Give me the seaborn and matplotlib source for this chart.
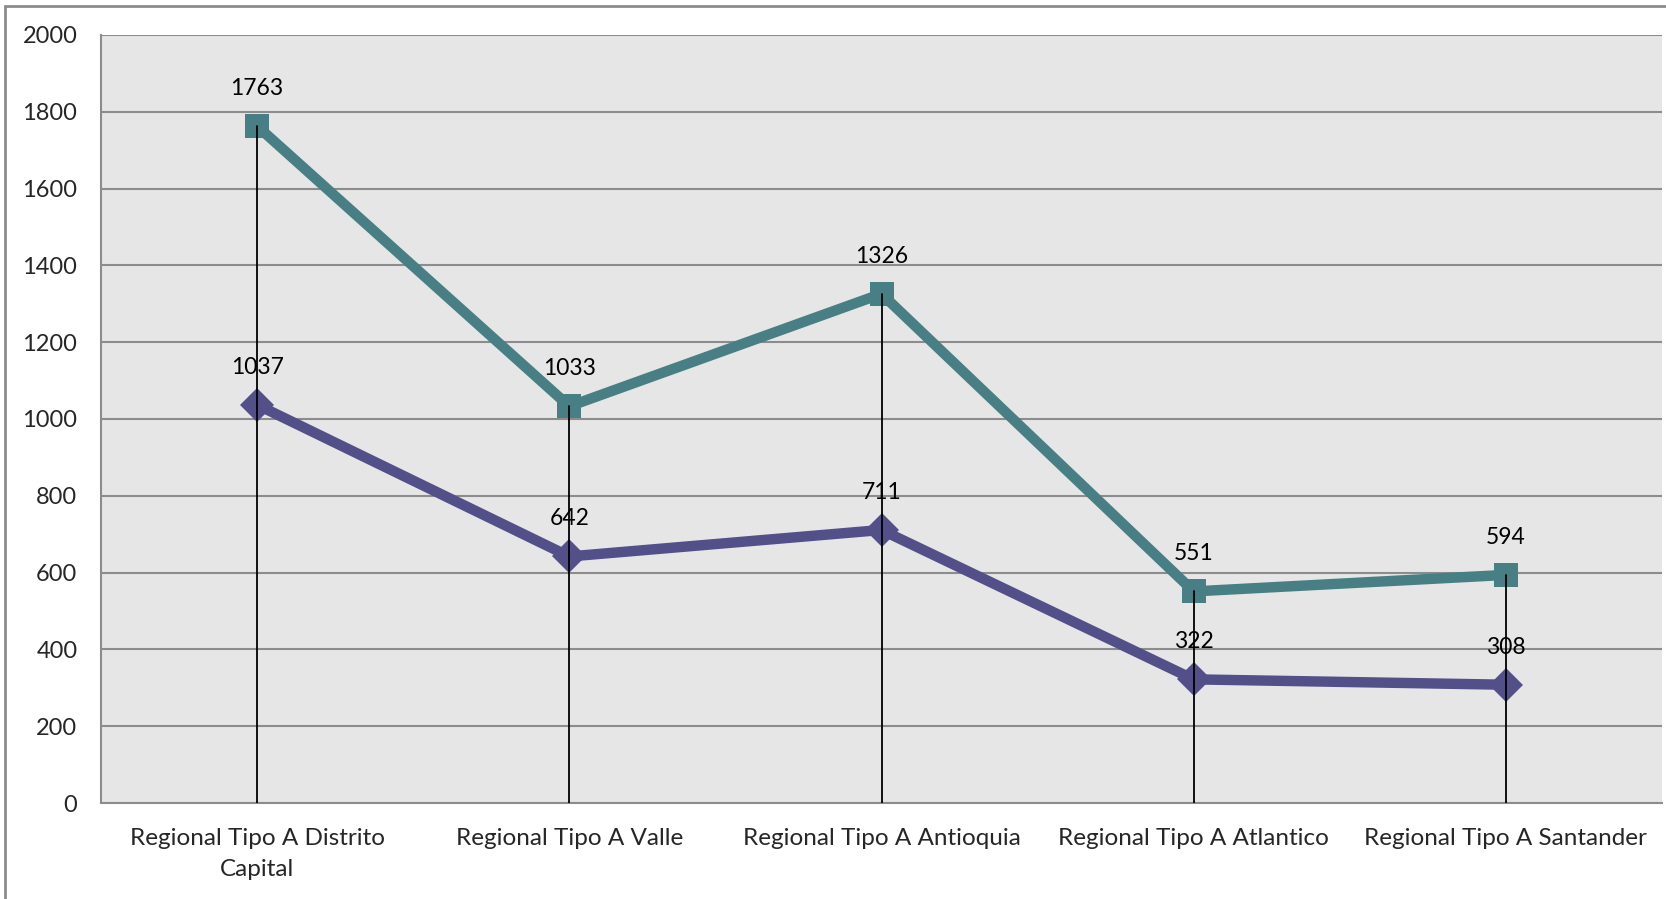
import pandas as pd
import matplotlib.pyplot as plt
import seaborn as sns
from matplotlib.patches import Rectangle

# datos
categorias = ['Regional Tipo A Distrito\nCapital', 'Regional Tipo A Valle',
              'Regional Tipo A Antioquia', 'Regional Tipo A Atlantico',
              'Regional Tipo A Santander']
serie_alta = [1763, 1033, 1326, 551, 594]
serie_baja = [1037, 642, 711, 322, 308]
y_ticks = [0, 200, 400, 600, 800, 1000, 1200, 1400, 1600, 1800, 2000]

sns.set_style('white', {'axes.facecolor': '#E6E6E6'})
plt.rcParams['font.family'] = ['Lato', 'DejaVu Sans']

df = pd.DataFrame({
    'categoria': categorias * 2,
    'pos': list(range(len(categorias))) * 2,
    'valor': serie_alta + serie_baja,
    'serie': ['alta'] * len(categorias) + ['baja'] * len(categorias),
})

fig = plt.figure(figsize=(16.66, 8.99), dpi=100)
ax = fig.add_axes([101 / 1666, 96 / 899, 1561 / 1666, 768 / 899])

colores = {'alta': '#477F84', 'baja': '#524F89'}
sns.lineplot(data=df, x='pos', y='valor', hue='serie', style='serie',
             palette=colores, markers={'alta': 's', 'baja': 'D'}, dashes=False,
             linewidth=7.5, markersize=17, markeredgewidth=0, legend=False, ax=ax,
             zorder=3)

# lineas de caida
for i in range(len(categorias)):
    ax.plot([i, i], [0, max(serie_alta[i], serie_baja[i])], color='black',
            linewidth=1.3, zorder=4)

# etiquetas de datos
for i in range(len(categorias)):
    for v in (serie_alta[i], serie_baja[i]):
        ax.annotate(str(v), (i, v), xytext=(0, 27), textcoords='offset points',
                    ha='center', va='center', fontsize=16.5, color='black', zorder=5)

ax.set_xlim(-0.5, len(categorias) - 0.5)
ax.set_ylim(0, 2000)
ax.set_yticks(y_ticks)
ax.set_xticks(range(len(categorias)))
ax.set_xticklabels(categorias, fontsize=17.5, linespacing=1.6)
ax.tick_params(axis='y', labelsize=17, length=6, color='#8C8C8C', width=1.5, pad=11)
ax.tick_params(axis='x', length=0, pad=18)
ax.yaxis.grid(True, color='#8C8C8C', linewidth=1.5)
ax.set_axisbelow(True)
ax.set_xlabel('')
ax.set_ylabel('')
for lado in ['top', 'right']:
    ax.spines[lado].set_visible(False)
for lado in ['left', 'bottom']:
    ax.spines[lado].set_color('#8C8C8C')
    ax.spines[lado].set_linewidth(1.5)

# borde exterior del grafico
fig.patches.append(Rectangle((5 / 1666, -0.01), 1.02, (899 - 6) / 899 + 0.01,
                             transform=fig.transFigure, fill=False,
                             edgecolor='#8C8C8C', linewidth=2))

fig.savefig('out.png', dpi=100)
plt.close(fig)
